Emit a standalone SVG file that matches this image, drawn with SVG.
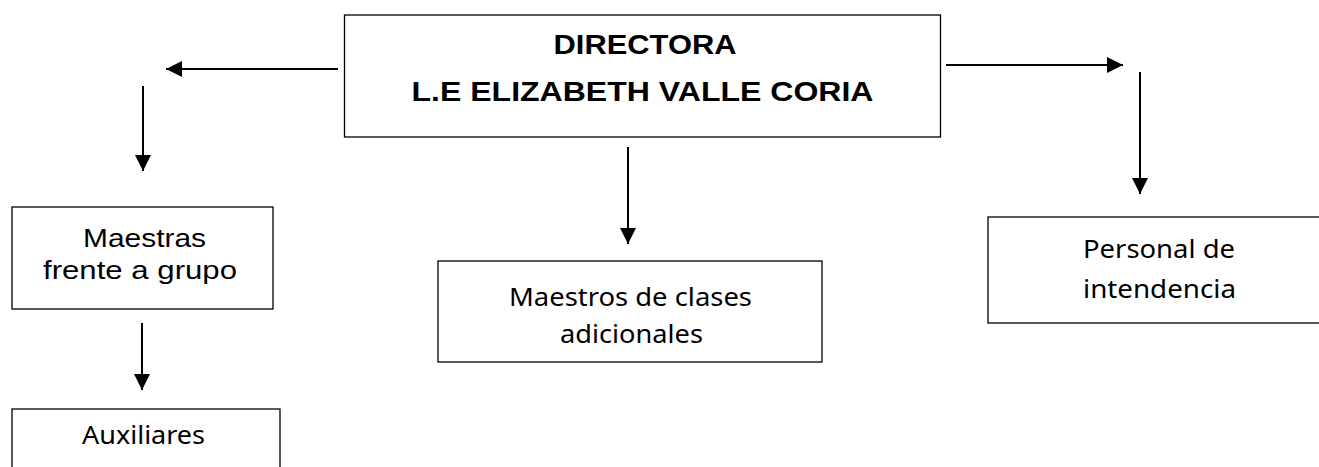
<svg xmlns="http://www.w3.org/2000/svg" width="1319" height="467" viewBox="0 0 1319 467">
<style>
.box{fill:#fff;stroke:#000;stroke-width:1.3}
.ln{stroke:#000;stroke-width:2;fill:none}
.bold{font-family:"Liberation Sans",Arial,sans-serif;font-weight:bold;font-size:27px;fill:#000}
.ar{font-family:"Liberation Sans",Arial,sans-serif;font-size:26px;fill:#000}
.cal{font-family:"Noto Sans","Open Sans",sans-serif;font-size:26px;fill:#000}
</style>
<defs>
<marker id="ah" markerUnits="userSpaceOnUse" markerWidth="16" markerHeight="16" viewBox="0 0 16 16" refX="16" refY="8" orient="auto">
<path d="M0,0 L16,8 L0,16 Z" fill="#000"/>
</marker>
</defs>
<g id="connectors">
<line class="ln" x1="338" y1="69" x2="166" y2="69" marker-end="url(#ah)"/>
<line class="ln" x1="143" y1="86" x2="143" y2="171" marker-end="url(#ah)"/>
<line class="ln" x1="946" y1="65" x2="1123" y2="65" marker-end="url(#ah)"/>
<line class="ln" x1="1140" y1="72" x2="1140" y2="194" marker-end="url(#ah)"/>
<line class="ln" x1="628" y1="147" x2="628" y2="244" marker-end="url(#ah)"/>
<line class="ln" x1="142" y1="323" x2="142" y2="390" marker-end="url(#ah)"/>
</g>
<g id="directora">
<rect class="box" x="344.5" y="15" width="596" height="122"/>
<text class="bold" x="645" y="54" text-anchor="middle" textLength="183" lengthAdjust="spacingAndGlyphs">DIRECTORA</text>
<text class="bold" x="642.5" y="101" text-anchor="middle" textLength="462" lengthAdjust="spacingAndGlyphs">L.E ELIZABETH VALLE CORIA</text>
</g>
<g id="maestras">
<rect class="box" x="12" y="207" width="261" height="102"/>
<text class="ar" x="144.5" y="247" text-anchor="middle" textLength="123" lengthAdjust="spacingAndGlyphs">Maestras</text>
<text class="ar" x="140" y="279" text-anchor="middle" textLength="194" lengthAdjust="spacingAndGlyphs">frente a grupo</text>
</g>
<g id="auxiliares">
<rect class="box" x="12" y="409" width="268" height="70"/>
<text class="cal" x="143.5" y="444" text-anchor="middle" textLength="123" lengthAdjust="spacingAndGlyphs">Auxiliares</text>
</g>
<g id="maestros">
<rect class="box" x="438" y="261" width="384" height="101"/>
<text class="cal" x="630.5" y="306" text-anchor="middle" textLength="243" lengthAdjust="spacingAndGlyphs">Maestros de clases</text>
<text class="cal" x="631.5" y="343" text-anchor="middle" textLength="143" lengthAdjust="spacingAndGlyphs">adicionales</text>
</g>
<g id="personal">
<rect class="box" x="988" y="217" width="340" height="106"/>
<text class="cal" x="1159" y="258" text-anchor="middle" textLength="152" lengthAdjust="spacingAndGlyphs">Personal de</text>
<text class="cal" x="1159.5" y="298" text-anchor="middle" textLength="153" lengthAdjust="spacingAndGlyphs">intendencia</text>
</g>
</svg>
